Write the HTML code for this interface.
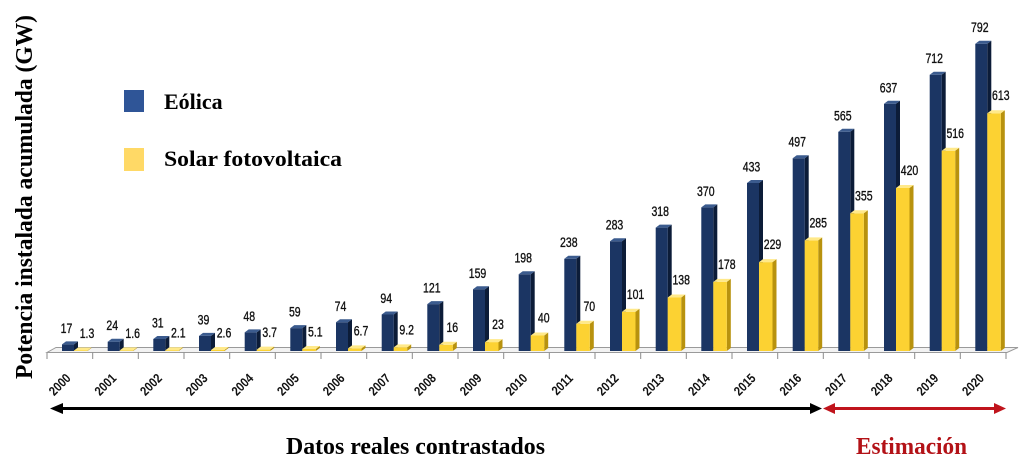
<!DOCTYPE html>
<html><head><meta charset="utf-8"><style>
html,body{margin:0;padding:0;background:#fff;}
svg{display:block;}
.bf{fill:#1b3563}.bs{fill:#0c1c38}.bt{fill:#3b5b8e}
.yf{fill:#fcd232}.ys{fill:#b8920e}.yt{fill:#ffe98a}
.v{font-family:"Liberation Sans",sans-serif;font-size:14px;fill:#111;stroke:#111;stroke-width:0.35;text-anchor:middle}
.yr{font-family:"Liberation Sans",sans-serif;font-size:13px;font-weight:bold;fill:#111;text-anchor:end}
.sf{font-family:"Liberation Serif",serif;font-weight:bold}
</style></head><body>
<svg width="1024" height="475" viewBox="0 0 1024 475" xmlns="http://www.w3.org/2000/svg">
<rect width="1024" height="475" fill="#fff"/>
<text class="sf" font-size="24" fill="#000" text-anchor="middle" textLength="364" lengthAdjust="spacingAndGlyphs" transform="translate(32,197) rotate(-90)">Potencia instalada acumulada (GW)</text>
<rect x="124" y="90" width="20" height="22" fill="#2f5597"/>
<rect x="124" y="148" width="20" height="23" fill="#ffd966"/>
<text class="sf" x="164" y="109" font-size="22" fill="#000">Eólica</text>
<text class="sf" x="164" y="166" font-size="22" fill="#000" textLength="178" lengthAdjust="spacingAndGlyphs">Solar fotovoltaica</text>
<polygon points="47,352.5 1007,352.5 1018,347.5 56,347.5" fill="#f2f2f2" stroke="#9a9a9a" stroke-width="1"/>
<g stroke="#8a8a8a" stroke-width="1">
<line x1="47" y1="352.5" x2="47" y2="359"/><line x1="92.7" y1="352.5" x2="92.7" y2="359"/><line x1="138.3" y1="352.5" x2="138.3" y2="359"/><line x1="184" y1="352.5" x2="184" y2="359"/><line x1="229.7" y1="352.5" x2="229.7" y2="359"/><line x1="275.3" y1="352.5" x2="275.3" y2="359"/><line x1="321" y1="352.5" x2="321" y2="359"/><line x1="366.7" y1="352.5" x2="366.7" y2="359"/><line x1="412.3" y1="352.5" x2="412.3" y2="359"/><line x1="458" y1="352.5" x2="458" y2="359"/><line x1="503.7" y1="352.5" x2="503.7" y2="359"/><line x1="549.3" y1="352.5" x2="549.3" y2="359"/><line x1="595" y1="352.5" x2="595" y2="359"/><line x1="640.7" y1="352.5" x2="640.7" y2="359"/><line x1="686.3" y1="352.5" x2="686.3" y2="359"/><line x1="732" y1="352.5" x2="732" y2="359"/><line x1="777.7" y1="352.5" x2="777.7" y2="359"/><line x1="823.3" y1="352.5" x2="823.3" y2="359"/><line x1="869" y1="352.5" x2="869" y2="359"/><line x1="914.7" y1="352.5" x2="914.7" y2="359"/><line x1="960.3" y1="352.5" x2="960.3" y2="359"/><line x1="1006" y1="352.5" x2="1006" y2="359"/>
</g>

<g transform="translate(47,0)"><path class="bs" d="M27 351V344.4l4-3V348z"/><path class="bf" d="M15 351V344.4h12V351z"/><path class="bt" d="M15 344.4l4-3h12l-4 3z"/><path class="ys" d="M40.5 351V350.5l4-3V348z"/><path class="yf" d="M27 351V350.5h13.5V351z"/><path class="yt" d="M27 350.5l4-3h13.5l-4 3z"/><text class="v" transform="translate(19.5,332.9) scale(0.75,1)">17</text><text class="v" transform="translate(40,338) scale(0.75,1)">1.3</text></g>
<g transform="translate(92.7,0)"><path class="bs" d="M27 351V341.7l4-3V348z"/><path class="bf" d="M15 351V341.7h12V351z"/><path class="bt" d="M15 341.7l4-3h12l-4 3z"/><path class="ys" d="M40.5 351V350.4l4-3V348z"/><path class="yf" d="M27 351V350.4h13.5V351z"/><path class="yt" d="M27 350.4l4-3h13.5l-4 3z"/><text class="v" transform="translate(19.5,330.2) scale(0.75,1)">24</text><text class="v" transform="translate(40,337.9) scale(0.75,1)">1.6</text></g>
<g transform="translate(138.3,0)"><path class="bs" d="M27 351V339l4-3V348z"/><path class="bf" d="M15 351V339h12V351z"/><path class="bt" d="M15 339l4-3h12l-4 3z"/><path class="ys" d="M40.5 351V350.2l4-3V348z"/><path class="yf" d="M27 351V350.2h13.5V351z"/><path class="yt" d="M27 350.2l4-3h13.5l-4 3z"/><text class="v" transform="translate(19.5,327.5) scale(0.75,1)">31</text><text class="v" transform="translate(40,337.7) scale(0.75,1)">2.1</text></g>
<g transform="translate(184,0)"><path class="bs" d="M27 351V335.9l4-3V348z"/><path class="bf" d="M15 351V335.9h12V351z"/><path class="bt" d="M15 335.9l4-3h12l-4 3z"/><path class="ys" d="M40.5 351V350l4-3V348z"/><path class="yf" d="M27 351V350h13.5V351z"/><path class="yt" d="M27 350l4-3h13.5l-4 3z"/><text class="v" transform="translate(19.5,324.4) scale(0.75,1)">39</text><text class="v" transform="translate(40,337.5) scale(0.75,1)">2.6</text></g>
<g transform="translate(229.7,0)"><path class="bs" d="M27 351V332.4l4-3V348z"/><path class="bf" d="M15 351V332.4h12V351z"/><path class="bt" d="M15 332.4l4-3h12l-4 3z"/><path class="ys" d="M40.5 351V349.6l4-3V348z"/><path class="yf" d="M27 351V349.6h13.5V351z"/><path class="yt" d="M27 349.6l4-3h13.5l-4 3z"/><text class="v" transform="translate(19.5,320.9) scale(0.75,1)">48</text><text class="v" transform="translate(40,337.1) scale(0.75,1)">3.7</text></g>
<g transform="translate(275.3,0)"><path class="bs" d="M27 351V328.1l4-3V348z"/><path class="bf" d="M15 351V328.1h12V351z"/><path class="bt" d="M15 328.1l4-3h12l-4 3z"/><path class="ys" d="M40.5 351V349l4-3V348z"/><path class="yf" d="M27 351V349h13.5V351z"/><path class="yt" d="M27 349l4-3h13.5l-4 3z"/><text class="v" transform="translate(19.5,316.6) scale(0.75,1)">59</text><text class="v" transform="translate(40,336.3) scale(0.75,1)">5.1</text></g>
<g transform="translate(321,0)"><path class="bs" d="M27 351V322.3l4-3V348z"/><path class="bf" d="M15 351V322.3h12V351z"/><path class="bt" d="M15 322.3l4-3h12l-4 3z"/><path class="ys" d="M40.5 351V348.4l4-3V348z"/><path class="yf" d="M27 351V348.4h13.5V351z"/><path class="yt" d="M27 348.4l4-3h13.5l-4 3z"/><text class="v" transform="translate(19.5,310.8) scale(0.75,1)">74</text><text class="v" transform="translate(40,335.6) scale(0.75,1)">6.7</text></g>
<g transform="translate(366.7,0)"><path class="bs" d="M27 351V314.5l4-3V348z"/><path class="bf" d="M15 351V314.5h12V351z"/><path class="bt" d="M15 314.5l4-3h12l-4 3z"/><path class="ys" d="M40.5 351V347.4l4-3V348z"/><path class="yf" d="M27 351V347.4h13.5V351z"/><path class="yt" d="M27 347.4l4-3h13.5l-4 3z"/><text class="v" transform="translate(19.5,303) scale(0.75,1)">94</text><text class="v" transform="translate(40,334.5) scale(0.75,1)">9.2</text></g>
<g transform="translate(412.3,0)"><path class="bs" d="M27 351V304.1l4-3V348z"/><path class="bf" d="M15 351V304.1h12V351z"/><path class="bt" d="M15 304.1l4-3h12l-4 3z"/><path class="ys" d="M40.5 351V344.8l4-3V348z"/><path class="yf" d="M27 351V344.8h13.5V351z"/><path class="yt" d="M27 344.8l4-3h13.5l-4 3z"/><text class="v" transform="translate(19.5,292.6) scale(0.75,1)">121</text><text class="v" transform="translate(40,331.8) scale(0.75,1)">16</text></g>
<g transform="translate(458,0)"><path class="bs" d="M27 351V289.3l4-3V348z"/><path class="bf" d="M15 351V289.3h12V351z"/><path class="bt" d="M15 289.3l4-3h12l-4 3z"/><path class="ys" d="M40.5 351V342.1l4-3V348z"/><path class="yf" d="M27 351V342.1h13.5V351z"/><path class="yt" d="M27 342.1l4-3h13.5l-4 3z"/><text class="v" transform="translate(19.5,277.8) scale(0.75,1)">159</text><text class="v" transform="translate(40,329.1) scale(0.75,1)">23</text></g>
<g transform="translate(503.7,0)"><path class="bs" d="M27 351V274.2l4-3V348z"/><path class="bf" d="M15 351V274.2h12V351z"/><path class="bt" d="M15 274.2l4-3h12l-4 3z"/><path class="ys" d="M40.5 351V335.5l4-3V348z"/><path class="yf" d="M27 351V335.5h13.5V351z"/><path class="yt" d="M27 335.5l4-3h13.5l-4 3z"/><text class="v" transform="translate(19.5,262.7) scale(0.75,1)">198</text><text class="v" transform="translate(40,322.5) scale(0.75,1)">40</text></g>
<g transform="translate(549.3,0)"><path class="bs" d="M27 351V258.7l4-3V348z"/><path class="bf" d="M15 351V258.7h12V351z"/><path class="bt" d="M15 258.7l4-3h12l-4 3z"/><path class="ys" d="M40.5 351V323.8l4-3V348z"/><path class="yf" d="M27 351V323.8h13.5V351z"/><path class="yt" d="M27 323.8l4-3h13.5l-4 3z"/><text class="v" transform="translate(19.5,247.2) scale(0.75,1)">238</text><text class="v" transform="translate(40,310.8) scale(0.75,1)">70</text></g>
<g transform="translate(595,0)"><path class="bs" d="M27 351V241.2l4-3V348z"/><path class="bf" d="M15 351V241.2h12V351z"/><path class="bt" d="M15 241.2l4-3h12l-4 3z"/><path class="ys" d="M40.5 351V311.8l4-3V348z"/><path class="yf" d="M27 351V311.8h13.5V351z"/><path class="yt" d="M27 311.8l4-3h13.5l-4 3z"/><text class="v" transform="translate(19.5,229.7) scale(0.75,1)">283</text><text class="v" transform="translate(40.5,298.8) scale(0.75,1)">101</text></g>
<g transform="translate(640.7,0)"><path class="bs" d="M27 351V227.6l4-3V348z"/><path class="bf" d="M15 351V227.6h12V351z"/><path class="bt" d="M15 227.6l4-3h12l-4 3z"/><path class="ys" d="M40.5 351V297.5l4-3V348z"/><path class="yf" d="M27 351V297.5h13.5V351z"/><path class="yt" d="M27 297.5l4-3h13.5l-4 3z"/><text class="v" transform="translate(19.5,216.1) scale(0.75,1)">318</text><text class="v" transform="translate(40.5,284.5) scale(0.75,1)">138</text></g>
<g transform="translate(686.3,0)"><path class="bs" d="M27 351V207.4l4-3V348z"/><path class="bf" d="M15 351V207.4h12V351z"/><path class="bt" d="M15 207.4l4-3h12l-4 3z"/><path class="ys" d="M40.5 351V281.9l4-3V348z"/><path class="yf" d="M27 351V281.9h13.5V351z"/><path class="yt" d="M27 281.9l4-3h13.5l-4 3z"/><text class="v" transform="translate(19.5,195.9) scale(0.75,1)">370</text><text class="v" transform="translate(40.5,268.9) scale(0.75,1)">178</text></g>
<g transform="translate(732,0)"><path class="bs" d="M27 351V183l4-3V348z"/><path class="bf" d="M15 351V183h12V351z"/><path class="bt" d="M15 183l4-3h12l-4 3z"/><path class="ys" d="M40.5 351V262.1l4-3V348z"/><path class="yf" d="M27 351V262.1h13.5V351z"/><path class="yt" d="M27 262.1l4-3h13.5l-4 3z"/><text class="v" transform="translate(19.5,171.5) scale(0.75,1)">433</text><text class="v" transform="translate(40.5,249.1) scale(0.75,1)">229</text></g>
<g transform="translate(777.7,0)"><path class="bs" d="M27 351V158.2l4-3V348z"/><path class="bf" d="M15 351V158.2h12V351z"/><path class="bt" d="M15 158.2l4-3h12l-4 3z"/><path class="ys" d="M40.5 351V240.4l4-3V348z"/><path class="yf" d="M27 351V240.4h13.5V351z"/><path class="yt" d="M27 240.4l4-3h13.5l-4 3z"/><text class="v" transform="translate(19.5,146.7) scale(0.75,1)">497</text><text class="v" transform="translate(40.5,227.4) scale(0.75,1)">285</text></g>
<g transform="translate(823.3,0)"><path class="bs" d="M27 351V131.8l4-3V348z"/><path class="bf" d="M15 351V131.8h12V351z"/><path class="bt" d="M15 131.8l4-3h12l-4 3z"/><path class="ys" d="M40.5 351V213.3l4-3V348z"/><path class="yf" d="M27 351V213.3h13.5V351z"/><path class="yt" d="M27 213.3l4-3h13.5l-4 3z"/><text class="v" transform="translate(19.5,120.3) scale(0.75,1)">565</text><text class="v" transform="translate(40.5,200.3) scale(0.75,1)">355</text></g>
<g transform="translate(869,0)"><path class="bs" d="M27 351V103.8l4-3V348z"/><path class="bf" d="M15 351V103.8h12V351z"/><path class="bt" d="M15 103.8l4-3h12l-4 3z"/><path class="ys" d="M40.5 351V188l4-3V348z"/><path class="yf" d="M27 351V188h13.5V351z"/><path class="yt" d="M27 188l4-3h13.5l-4 3z"/><text class="v" transform="translate(19.5,92.3) scale(0.75,1)">637</text><text class="v" transform="translate(40.5,175) scale(0.75,1)">420</text></g>
<g transform="translate(914.7,0)"><path class="bs" d="M27 351V74.7l4-3V348z"/><path class="bf" d="M15 351V74.7h12V351z"/><path class="bt" d="M15 74.7l4-3h12l-4 3z"/><path class="ys" d="M40.5 351V150.8l4-3V348z"/><path class="yf" d="M27 351V150.8h13.5V351z"/><path class="yt" d="M27 150.8l4-3h13.5l-4 3z"/><text class="v" transform="translate(19.5,63.2) scale(0.75,1)">712</text><text class="v" transform="translate(40.5,137.8) scale(0.75,1)">516</text></g>
<g transform="translate(960.3,0)"><path class="bs" d="M27 351V43.7l4-3V348z"/><path class="bf" d="M15 351V43.7h12V351z"/><path class="bt" d="M15 43.7l4-3h12l-4 3z"/><path class="ys" d="M40.5 351V113.2l4-3V348z"/><path class="yf" d="M27 351V113.2h13.5V351z"/><path class="yt" d="M27 113.2l4-3h13.5l-4 3z"/><text class="v" transform="translate(19.5,32) scale(0.75,1)">792</text><text class="v" transform="translate(40.5,100.2) scale(0.75,1)">613</text></g>

<text class="yr" transform="translate(71.5,379) rotate(-45) scale(0.85,1)">2000</text>
<text class="yr" transform="translate(117.2,379) rotate(-45) scale(0.85,1)">2001</text>
<text class="yr" transform="translate(162.8,379) rotate(-45) scale(0.85,1)">2002</text>
<text class="yr" transform="translate(208.5,379) rotate(-45) scale(0.85,1)">2003</text>
<text class="yr" transform="translate(254.2,379) rotate(-45) scale(0.85,1)">2004</text>
<text class="yr" transform="translate(299.8,379) rotate(-45) scale(0.85,1)">2005</text>
<text class="yr" transform="translate(345.5,379) rotate(-45) scale(0.85,1)">2006</text>
<text class="yr" transform="translate(391.2,379) rotate(-45) scale(0.85,1)">2007</text>
<text class="yr" transform="translate(436.8,379) rotate(-45) scale(0.85,1)">2008</text>
<text class="yr" transform="translate(482.5,379) rotate(-45) scale(0.85,1)">2009</text>
<text class="yr" transform="translate(528.2,379) rotate(-45) scale(0.85,1)">2010</text>
<text class="yr" transform="translate(573.8,379) rotate(-45) scale(0.85,1)">2011</text>
<text class="yr" transform="translate(619.5,379) rotate(-45) scale(0.85,1)">2012</text>
<text class="yr" transform="translate(665.2,379) rotate(-45) scale(0.85,1)">2013</text>
<text class="yr" transform="translate(710.8,379) rotate(-45) scale(0.85,1)">2014</text>
<text class="yr" transform="translate(756.5,379) rotate(-45) scale(0.85,1)">2015</text>
<text class="yr" transform="translate(802.2,379) rotate(-45) scale(0.85,1)">2016</text>
<text class="yr" transform="translate(847.8,379) rotate(-45) scale(0.85,1)">2017</text>
<text class="yr" transform="translate(893.5,379) rotate(-45) scale(0.85,1)">2018</text>
<text class="yr" transform="translate(939.2,379) rotate(-45) scale(0.85,1)">2019</text>
<text class="yr" transform="translate(984.8,379) rotate(-45) scale(0.85,1)">2020</text>

<line x1="60" y1="408.5" x2="813" y2="408.5" stroke="#000" stroke-width="3"/>
<polygon points="50,408.5 63,403 63,414" fill="#000"/>
<polygon points="822,408.5 810,403 810,414" fill="#000"/>
<line x1="832" y1="408.5" x2="996" y2="408.5" stroke="#c0141c" stroke-width="3"/>
<polygon points="823,408.5 835,403 835,414" fill="#c0141c"/>
<polygon points="1006,408.5 994,403 994,414" fill="#c0141c"/>

<text class="sf" x="286" y="454" font-size="24" fill="#000" textLength="259" lengthAdjust="spacingAndGlyphs">Datos reales contrastados</text>
<text class="sf" x="856" y="454" font-size="24" fill="#b31217" textLength="111" lengthAdjust="spacingAndGlyphs">Estimación</text>
</svg>
</body></html>
